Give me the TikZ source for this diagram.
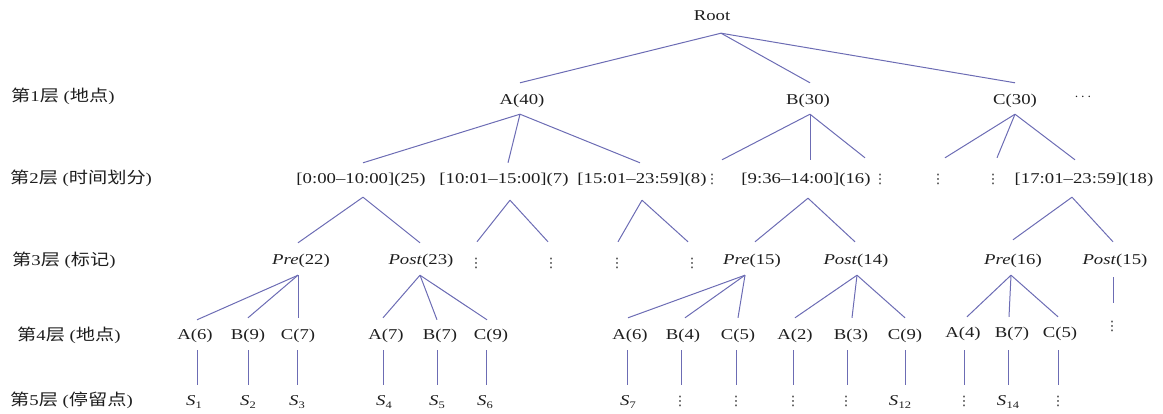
\documentclass[tikz,border=0pt]{standalone}
\usepackage{fontspec}
\setmainfont[FakeStretch=1.25]{Liberation Serif}
\newfontfamily\cjk[FakeStretch=1.2]{Noto Sans CJK SC}
\newfontfamily\dv{DejaVu Sans}
\definecolor{edgecol}{RGB}{108,108,180}
\definecolor{txt}{RGB}{30,30,30}
\newcommand\Sx[1]{\textit{S}\kern0.3pt\raisebox{-3pt}{\fontsize{10}{10}\selectfont #1}}
\newcommand\vd{{\dv\fontsize{13}{13}\selectfont ⋮}}
\newcommand\cj[1]{{\cjk\fontsize{16}{18}\selectfont #1}}
\newcommand\lbl[2]{\cj{第}#1\cj{层} (\cj{#2})}
\newcommand\lnk[6]{\draw[edge] ([shift={(#2,#3)}]#1.south) -- ([shift={(#5,#6)}]#4.north);}
\begin{document}
\begin{tikzpicture}[x=1pt,y=-1pt,
  tn/.style={inner sep=0pt, text height=10.5pt, text depth=3.5pt, text=txt, font=\fontsize{15}{18}\selectfont},
  lab/.style={tn, anchor=west},
  edge/.style={draw=edgecol, line width=1pt}]
\useasboundingbox (0,0) rectangle (1163,414);
% level labels
\node[lab] (L1) at (11,98) {\lbl{1}{地点}};
\node[lab] (L2) at (10,180) {\lbl{2}{时间划分}};
\node[lab] (L3) at (12,262) {\lbl{3}{标记}};
\node[lab] (L4) at (17,337) {\lbl{4}{地点}};
\node[lab] (L5) at (10,402) {\lbl{5}{停留点}};
% level 0
\node[tn] (root) at (712,17) {Root};
% level 1
\node[tn] (A40) at (522,101) {A(40)};
\node[tn] (B30) at (808,101) {B(30)};
\node[tn] (C30) at (1015,101) {C(30)};
\node[tn, font=\fontsize{14}{14}\selectfont] (more) at (1083,97) {$\cdots$};
% level 2
\node[tn] (t1) at (361,180) {[0:00–10:00](25)};
\node[tn] (t2) at (504,180) {[10:01–15:00](7)};
\node[tn] (t3) at (642,180) {[15:01–23:59](8)};
\node[tn] (dB1) at (712,180) {\vd};
\node[tn] (t4) at (806,180) {[9:36–14:00](16)};
\node[tn] (dB3) at (880,180) {\vd};
\node[tn] (dC1) at (938,180) {\vd};
\node[tn] (dC2) at (993,180) {\vd};
\node[tn] (t5) at (1084,180) {[17:01–23:59](18)};
% level 3
\node[tn] (Pre22) at (301,261) {\textit{Pre}(22)};
\node[tn] (Post23) at (421,261) {\textit{Post}(23)};
\node[tn] (d1) at (476,264) {\vd};
\node[tn] (d2) at (551,264) {\vd};
\node[tn] (d3) at (617,264) {\vd};
\node[tn] (d4) at (692,264) {\vd};
\node[tn] (Pre15) at (752,261) {\textit{Pre}(15)};
\node[tn] (Post14) at (856,261) {\textit{Post}(14)};
\node[tn] (Pre16) at (1013,261) {\textit{Pre}(16)};
\node[tn] (Post15) at (1115,261) {\textit{Post}(15)};
% level 4
\node[tn] (A6) at (195,336) {A(6)};
\node[tn] (B9) at (248,336) {B(9)};
\node[tn] (C7) at (298,336) {C(7)};
\node[tn] (A7) at (386,336) {A(7)};
\node[tn] (B7) at (440,336) {B(7)};
\node[tn] (C9) at (491,336) {C(9)};
\node[tn] (A6b) at (630,336) {A(6)};
\node[tn] (B4) at (683,336) {B(4)};
\node[tn] (C5) at (738,336) {C(5)};
\node[tn] (A2) at (795,336) {A(2)};
\node[tn] (B3) at (851,336) {B(3)};
\node[tn] (C9b) at (905,336) {C(9)};
\node[tn] (A4) at (963,334) {A(4)};
\node[tn] (B7b) at (1012,334) {B(7)};
\node[tn] (C5b) at (1060,334) {C(5)};
\node[tn] (dP) at (1112,327) {\vd};
% level 5
\node[tn] (S1) at (194,402) {\Sx{1}};
\node[tn] (S2) at (248,402) {\Sx{2}};
\node[tn] (S3) at (297,402) {\Sx{3}};
\node[tn] (S4) at (384,402) {\Sx{4}};
\node[tn] (S5) at (437,402) {\Sx{5}};
\node[tn] (S6) at (485,402) {\Sx{6}};
\node[tn] (S7) at (628,402) {\Sx{7}};
\node[tn] (e1) at (680,402) {\vd};
\node[tn] (e2) at (736,402) {\vd};
\node[tn] (e3) at (793,402) {\vd};
\node[tn] (e4) at (846,402) {\vd};
\node[tn] (S12) at (900,402) {\Sx{12}};
\node[tn] (e5) at (964,402) {\vd};
\node[tn] (S14) at (1008,402) {\Sx{14}};
\node[tn] (e6) at (1058,402) {\vd};
% edges level 0-1
\lnk{root}{9}{9}{A40}{-2}{-11}
\lnk{root}{9}{9}{B30}{2}{-11}
\lnk{root}{9}{9}{C30}{0}{-11}
% level 1-2
\lnk{A40}{-2}{6}{t1}{2}{-10}
\lnk{A40}{-2}{6}{t2}{4}{-10}
\lnk{A40}{-2}{6}{t3}{-2}{-10}
\lnk{B30}{2}{6}{dB1}{10}{-13}
\lnk{B30}{2}{6}{t4}{4}{-13}
\lnk{B30}{2}{6}{dB3}{-15}{-15}
\lnk{C30}{0}{6}{dC1}{7}{-15}
\lnk{C30}{0}{6}{dC2}{4}{-15}
\lnk{C30}{0}{6}{t5}{-9}{-13}
% level 2-3
\lnk{t1}{2}{10}{Pre22}{-3}{-11}
\lnk{t1}{2}{10}{Post23}{-1}{-11}
\lnk{t2}{6}{13}{d1}{1}{-15}
\lnk{t2}{6}{13}{d2}{-3}{-15}
\lnk{t3}{0}{13}{d3}{1}{-15}
\lnk{t3}{0}{13}{d4}{-4}{-15}
\lnk{t4}{2}{11}{Pre15}{3}{-12}
\lnk{t4}{2}{11}{Post14}{-1}{-12}
\lnk{t5}{-12}{10}{Pre16}{0}{-14}
\lnk{t5}{-12}{10}{Post15}{-2}{-12}
% level 3-4
\lnk{Pre22}{-3}{7}{A6}{2}{-9}
\lnk{Pre22}{-3}{7}{B9}{0}{-11}
\lnk{Pre22}{-3}{7}{C7}{0}{-11}
\lnk{Post23}{-1}{7}{A7}{-3}{-11}
\lnk{Post23}{-1}{7}{B7}{-3}{-9}
\lnk{Post23}{-1}{7}{C9}{-4}{-9}
\lnk{Pre15}{-7}{7}{A6b}{-2}{-11}
\lnk{Pre15}{-7}{7}{B4}{2}{-11}
\lnk{Pre15}{-7}{7}{C5}{0}{-11}
\lnk{Post14}{1}{7}{A2}{0}{-11}
\lnk{Post14}{1}{7}{B3}{1}{-11}
\lnk{Post14}{1}{7}{C9b}{0}{-11}
\lnk{Pre16}{-2}{7}{A4}{4}{-10}
\lnk{Pre16}{-2}{7}{B7b}{-3}{-10}
\lnk{Pre16}{-2}{7}{C5b}{-2}{-10}
\lnk{Post15}{-2}{9}{dP}{1}{-17}
% level 4-5
\lnk{A6}{2}{7}{S1}{3}{-10}
\lnk{B9}{0}{7}{S2}{0}{-10}
\lnk{C7}{-1}{7}{S3}{0}{-10}
\lnk{A7}{-3}{7}{S4}{-1}{-10}
\lnk{B7}{-3}{7}{S5}{0}{-10}
\lnk{C9}{-5}{7}{S6}{1}{-10}
\lnk{A6b}{-3}{7}{S7}{-1}{-10}
\lnk{B4}{-2}{7}{e1}{1}{-10}
\lnk{C5}{-2}{7}{e2}{0}{-10}
\lnk{A2}{-2}{7}{e3}{0}{-10}
\lnk{B3}{-4}{7}{e4}{1}{-10}
\lnk{C9b}{0}{7}{S12}{5}{-10}
\lnk{A4}{1}{9}{e5}{0}{-10}
\lnk{B7b}{-4}{9}{S14}{0}{-10}
\lnk{C5b}{-2}{9}{e6}{0}{-10}
\end{tikzpicture}
\end{document}
